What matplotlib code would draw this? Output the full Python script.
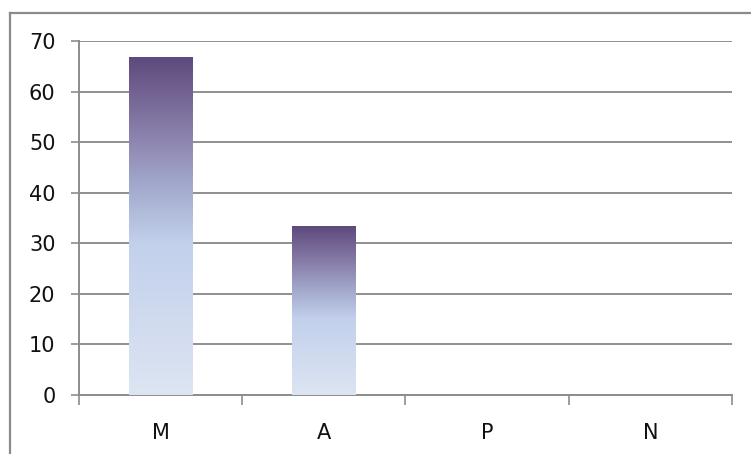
import numpy as np
import matplotlib
matplotlib.use("Agg")
import matplotlib.pyplot as plt
from matplotlib.colors import LinearSegmentedColormap
from matplotlib.lines import Line2D

categories = ["M", "A", "P", "N"]
values = [66.67, 33.33, 0, 0]
yticks = [0, 10, 20, 30, 40, 50, 60, 70]

W, H = 751, 454
fig = plt.figure(figsize=(W / 100, H / 100), dpi=100)
fig.patch.set_facecolor("white")

# outer chart frame (cropped at right and bottom)
fx0, fy0 = 10 / W, 1 - 13 / H
fig.add_artist(Line2D([fx0, 1.01], [fy0, fy0], transform=fig.transFigure, color="#8a8a8a", lw=1.6))
fig.add_artist(Line2D([fx0, fx0], [fy0, -0.01], transform=fig.transFigure, color="#8a8a8a", lw=1.6))

ax = fig.add_axes([79 / W, 1 - 395 / H, (732 - 79) / W, (395 - 41) / H])

cmap = LinearSegmentedColormap.from_list(
    "grad",
    [(0.0, "#dde5f2"), (0.45, "#c2d0ec"), (0.62, "#a3a9cc"), (0.8, "#857aa6"), (1.0, "#5e4a7d")],
)
grad = np.linspace(0, 1, 256).reshape(-1, 1)

x = np.arange(len(categories))
bw = 0.39
bars = ax.bar(x, values, width=bw, color="none", edgecolor="none", zorder=3)
for b, v in zip(bars, values):
    if v <= 0:
        continue
    x0 = b.get_x()
    ax.imshow(grad, cmap=cmap, origin="lower", aspect="auto",
              extent=(x0, x0 + b.get_width(), 0, v), zorder=3, interpolation="bilinear")
ax.set_xlim(-0.5, len(categories) - 0.5)
ax.set_ylim(0, 70)

ax.set_yticks(yticks)
ax.yaxis.grid(True, color="#8f8f8f", lw=1.4)
ax.set_axisbelow(True)
ax.set_xticks(x)
ax.set_xticklabels(categories)
ax.set_xticks(np.arange(len(categories) + 1) - 0.5, minor=True)

for s in ["top", "right"]:
    ax.spines[s].set_visible(False)
for s in ["left", "bottom"]:
    ax.spines[s].set_color("#8c8c8c")
    ax.spines[s].set_linewidth(1.4)

ax.tick_params(axis="y", direction="out", length=6, width=1.2, color="#8c8c8c",
               labelsize=15, pad=11, labelcolor="#111111")
ax.tick_params(axis="x", which="major", length=0, labelsize=15, pad=20, labelcolor="#111111")
ax.tick_params(axis="x", which="minor", direction="out", length=7, width=1.2, color="#8c8c8c")

fig.savefig("out.png", dpi=100, facecolor="white")
